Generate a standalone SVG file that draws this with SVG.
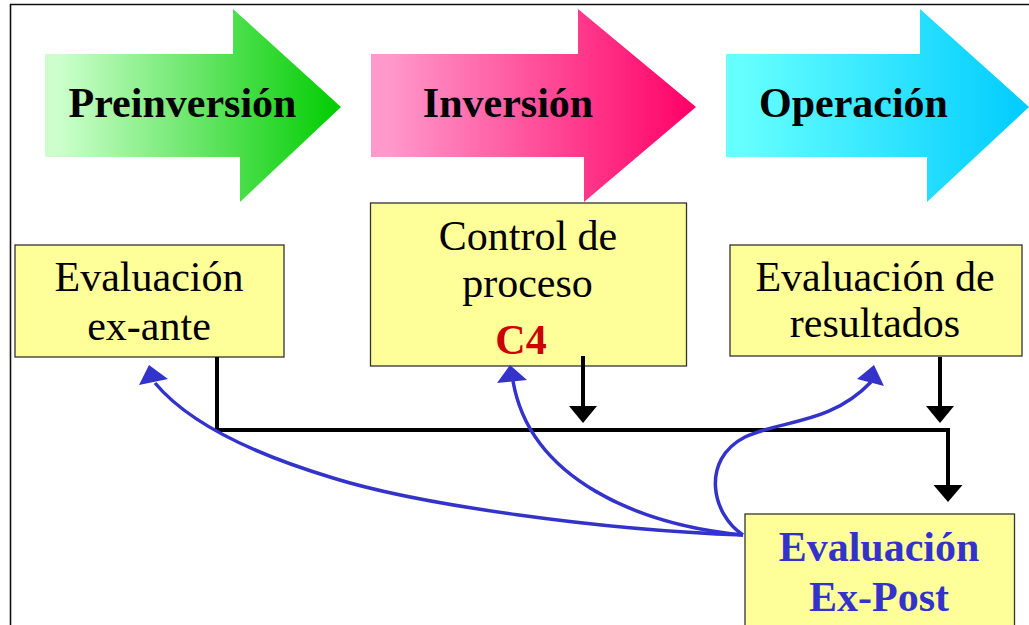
<svg xmlns="http://www.w3.org/2000/svg" width="1029" height="625" viewBox="0 0 1029 625">
<defs>
<linearGradient id="gGreen" x1="0" y1="0" x2="1" y2="0"><stop offset="0.05" stop-color="#ccffcc"/><stop offset="1" stop-color="#00cc00"/></linearGradient>
<linearGradient id="gPink" x1="0" y1="0" x2="1" y2="0"><stop offset="0.05" stop-color="#ff99cc"/><stop offset="1" stop-color="#ff0066"/></linearGradient>
<linearGradient id="gCyan" x1="0" y1="0" x2="1" y2="0"><stop offset="0.05" stop-color="#66ffff"/><stop offset="1" stop-color="#00ccff"/></linearGradient>
<style>
.box{fill:#ffff99;stroke:#333333;stroke-width:1.3}
.lbl{font-family:"Liberation Serif",Tinos,"Times New Roman","DejaVu Serif","Noto Serif",serif;font-size:42px;text-anchor:middle;fill:#000}
.b{font-weight:bold}
.blk{fill:none;stroke:#000;stroke-width:4}
.blu{fill:none;stroke:#3333cc;stroke-width:3.5}
.bh{fill:#000}
.uh{fill:#3333cc}
</style>
</defs>
<rect width="1029" height="625" fill="#ffffff"/>
<path d="M10.5,625 V4.5 H1029" fill="none" stroke="#111" stroke-width="1.6"/>

<g id="preinversion">
<polygon points="45,54 233,54 233,9 341,107 240,202 240,157 45,157" fill="url(#gGreen)"/>
<text class="lbl b" x="182.5" y="117" font-family="Liberation Serif, serif">Preinversión</text>
</g>
<g id="inversion">
<polygon points="371,54 578,54 578,9 696,107 584,202 584,157 371,157" fill="url(#gPink)"/>
<text class="lbl b" x="508" y="117" font-family="Liberation Serif, serif">Inversión</text>
</g>
<g id="operacion">
<polygon points="726,54 920,54 920,9 1029,107 927,202 927,157 726,157" fill="url(#gCyan)"/>
<text class="lbl b" x="853.5" y="117" font-family="Liberation Serif, serif">Operación</text>
</g>

<g id="ex-ante">
<rect class="box" x="15" y="245" width="269" height="112"/>
<text class="lbl" x="149" y="291">Evaluación</text>
<text class="lbl" x="149" y="340">ex-ante</text>
</g>
<g id="control">
<rect class="box" x="370.5" y="203" width="316" height="163"/>
<text class="lbl" x="528" y="250">Control de</text>
<text class="lbl" x="527.5" y="297">proceso</text>
<text class="lbl b" x="521" y="354" style="fill:#cc0000">C4</text>
</g>
<g id="resultados">
<rect class="box" x="730" y="245" width="292" height="111"/>
<text class="lbl" x="875" y="291">Evaluación de</text>
<text class="lbl" x="875" y="337">resultados</text>
</g>
<g id="ex-post">
<rect class="box" x="745" y="514" width="269.5" height="130"/>
<text class="lbl b" x="879" y="561" style="fill:#3333cc">Evaluación</text>
<text class="lbl b" x="879" y="611" style="fill:#3333cc">Ex-Post</text>
</g>

<g id="connectors">
<path class="blk" d="M217,357 V430 H948 V487"/>
<polygon class="bh" points="933.5,485 962.5,485 948,502"/>
<path class="blk" d="M583,356 V408"/>
<polygon class="bh" points="569,406 597,406 583,423"/>
<path class="blk" d="M940,357 V408"/>
<polygon class="bh" points="926,406 954,406 940,423"/>

<path class="blu" d="M743,535 C600,530 420,505 333,478 C260,456 190,425 155,383"/>
<polygon class="uh" points="149,365 139,385 168,379"/>
<path class="blu" d="M743,535 C640,525 530,480 513,381"/>
<polygon class="uh" points="510,365 497,383 527,380"/>
<path class="blu" d="M743,535 C712,515 700,460 745,437 C780,420 830,425 871,382"/>
<polygon class="uh" points="874,365 857,379 884,386"/>
</g>
</svg>
